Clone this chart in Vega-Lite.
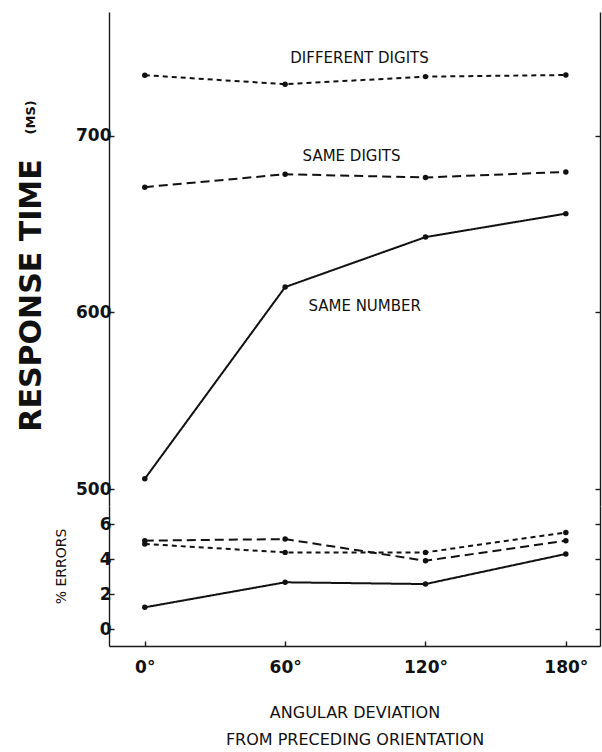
{
  "$schema": "https://vega.github.io/schema/vega-lite/v6.json",
  "padding": {"left": 16, "top": 12, "right": 3, "bottom": 5},
  "spacing": 0,
  "config": {
    "view": {"stroke": null},
    "axis": {
      "grid": false,
      "domainColor": "#1a1a1a",
      "domainWidth": 1.4,
      "tickColor": "#1a1a1a",
      "tickWidth": 1.4,
      "labelFont": "DejaVu Sans",
      "labelFontWeight": "bold",
      "labelFontSize": 17,
      "labelColor": "#111",
      "titleColor": "#111"
    }
  },
  "datasets": {
    "rt": [
      {"cond": "DIFFERENT DIGITS", "angle": 0, "rt": 734.4},
      {"cond": "DIFFERENT DIGITS", "angle": 60, "rt": 729.3},
      {"cond": "DIFFERENT DIGITS", "angle": 120, "rt": 733.6},
      {"cond": "DIFFERENT DIGITS", "angle": 180, "rt": 734.5},
      {"cond": "SAME DIGITS", "angle": 0, "rt": 671.0},
      {"cond": "SAME DIGITS", "angle": 60, "rt": 678.3},
      {"cond": "SAME DIGITS", "angle": 120, "rt": 676.5},
      {"cond": "SAME DIGITS", "angle": 180, "rt": 679.6},
      {"cond": "SAME NUMBER", "angle": 0, "rt": 505.8},
      {"cond": "SAME NUMBER", "angle": 60, "rt": 614.4},
      {"cond": "SAME NUMBER", "angle": 120, "rt": 642.7},
      {"cond": "SAME NUMBER", "angle": 180, "rt": 656.0}
    ],
    "err": [
      {"cond": "DIFFERENT DIGITS", "angle": 0, "err": 4.86},
      {"cond": "DIFFERENT DIGITS", "angle": 60, "err": 4.38},
      {"cond": "DIFFERENT DIGITS", "angle": 120, "err": 4.38},
      {"cond": "DIFFERENT DIGITS", "angle": 180, "err": 5.52},
      {"cond": "SAME DIGITS", "angle": 0, "err": 5.05},
      {"cond": "SAME DIGITS", "angle": 60, "err": 5.14},
      {"cond": "SAME DIGITS", "angle": 120, "err": 3.9},
      {"cond": "SAME DIGITS", "angle": 180, "err": 5.05},
      {"cond": "SAME NUMBER", "angle": 0, "err": 1.24},
      {"cond": "SAME NUMBER", "angle": 60, "err": 2.67},
      {"cond": "SAME NUMBER", "angle": 120, "err": 2.57},
      {"cond": "SAME NUMBER", "angle": 180, "err": 4.29}
    ],
    "labels": [
      {"label": "DIFFERENT DIGITS", "angle": 91.8, "rt": 744.0},
      {"label": "SAME DIGITS", "angle": 88.4, "rt": 688.5},
      {"label": "SAME NUMBER", "angle": 94.0, "rt": 603.6}
    ],
    "unit": [
      {"label": "(MS)", "angle": -48.5, "rt": 710.5}
    ]
  },
  "vconcat": [
    {
      "width": 491,
      "height": 494,
      "layer": [
        {
          "data": {"name": "rt"},
          "mark": {"type": "line", "color": "#111", "strokeWidth": 2},
          "encoding": {
            "x": {"field": "angle", "type": "quantitative", "scale": {"domain": [-15.3, 194.6], "nice": false, "zero": false},
              "axis": {"orient": "top", "labels": false, "ticks": false, "title": null}},
            "y": {"field": "rt", "type": "quantitative", "scale": {"domain": [490.4, 770.2], "nice": false, "zero": false},
              "axis": {"orient": "left", "values": [500, 600, 700], "tickSize": -5, "labelPadding": 3,
                "title": "RESPONSE TIME", "titleFont": "DejaVu Sans", "titleFontWeight": "bold", "titleFontSize": 30,
                "titleAngle": 270, "titleX": -78, "titleY": 283, "titleAlign": "center", "titleBaseline": "middle"}},
            "strokeDash": {"field": "cond", "type": "nominal",
              "scale": {"domain": ["DIFFERENT DIGITS", "SAME DIGITS", "SAME NUMBER"], "range": [[5, 4], [9, 5], [1, 0]]},
              "legend": null}
          }
        },
        {
          "data": {"name": "rt"},
          "mark": {"type": "point", "filled": true, "color": "#111", "size": 30, "opacity": 1},
          "encoding": {
            "x": {"field": "angle", "type": "quantitative"},
            "y": {"field": "rt", "type": "quantitative",
              "axis": {"orient": "right", "values": [500, 600, 700], "tickSize": -5, "labels": false, "title": null}}
          }
        },
        {
          "data": {"name": "labels"},
          "mark": {"type": "text", "font": "DejaVu Sans", "fontSize": 15, "color": "#111", "align": "center", "baseline": "middle"},
          "encoding": {
            "x": {"field": "angle", "type": "quantitative", "axis": null},
            "y": {"field": "rt", "type": "quantitative", "axis": null},
            "text": {"field": "label"}
          }
        },
        {
          "data": {"name": "unit"},
          "mark": {"type": "text", "font": "DejaVu Sans", "fontWeight": "bold", "fontSize": 13, "color": "#111", "angle": 270, "align": "center", "baseline": "middle"},
          "encoding": {
            "x": {"field": "angle", "type": "quantitative", "axis": null},
            "y": {"field": "rt", "type": "quantitative", "axis": null},
            "text": {"field": "label"}
          }
        }
      ],
      "resolve": {"axis": {"y": "independent"}}
    },
    {
      "width": 491,
      "height": 140,
      "layer": [
        {
          "data": {"name": "err"},
          "mark": {"type": "line", "color": "#111", "strokeWidth": 2},
          "encoding": {
            "x": {"field": "angle", "type": "quantitative", "scale": {"domain": [-15.3, 194.6], "nice": false, "zero": false},
              "axis": {"orient": "bottom", "values": [0, 60, 120, 180], "labelExpr": "datum.value + '°'", "tickSize": -5, "labelPadding": 18,
                "title": ["ANGULAR DEVIATION", "FROM PRECEDING ORIENTATION"], "titleFont": "DejaVu Sans", "titleFontWeight": "normal", "titleFontSize": 16,
                "titleLineHeight": 27, "titleY": 58, "titleBaseline": "top"}},
            "y": {"field": "err", "type": "quantitative", "scale": {"domain": [-0.97, 7.03], "nice": false, "zero": false},
              "axis": {"orient": "left", "values": [0, 2, 4, 6], "tickSize": -5, "labelPadding": 3,
                "title": "% ERRORS", "titleFont": "DejaVu Sans", "titleFontWeight": "normal", "titleFontSize": 14,
                "titleAngle": 270, "titleX": -48, "titleY": 60, "titleAlign": "center", "titleBaseline": "middle"}},
            "strokeDash": {"field": "cond", "type": "nominal",
              "scale": {"domain": ["DIFFERENT DIGITS", "SAME DIGITS", "SAME NUMBER"], "range": [[5, 4], [9, 5], [1, 0]]},
              "legend": null}
          }
        },
        {
          "data": {"name": "err"},
          "mark": {"type": "point", "filled": true, "color": "#111", "size": 30, "opacity": 1},
          "encoding": {
            "x": {"field": "angle", "type": "quantitative"},
            "y": {"field": "err", "type": "quantitative",
              "axis": {"orient": "right", "values": [0, 2, 4, 6], "tickSize": -5, "labels": false, "title": null}}
          }
        }
      ],
      "resolve": {"axis": {"y": "independent"}}
    }
  ]
}
